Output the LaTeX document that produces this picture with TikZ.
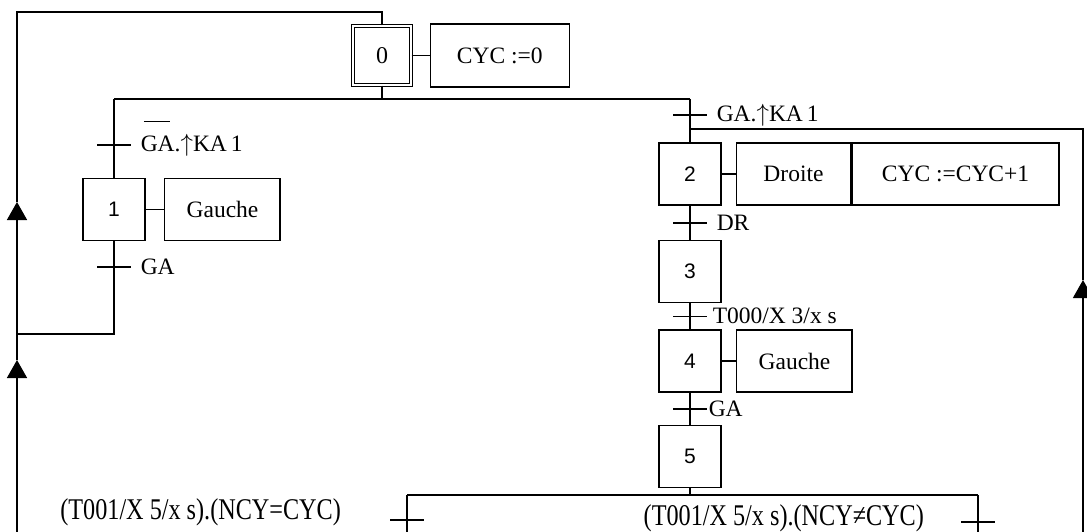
\documentclass[tikz,border=0pt]{standalone}
\usepackage{fontspec}
\setmainfont{Liberation Serif}
\setsansfont{Liberation Sans}
\usepackage{graphicx}
\usetikzlibrary{positioning,calc,arrows.meta}

\begin{document}
\begin{tikzpicture}[
    x=1pt, y=-1pt,
    line width=1.5pt,
    every node/.style={font=\fontsize{23.5}{28}\selectfont},
    etape/.style={draw, minimum width=62pt, minimum height=62pt, inner sep=0pt, font=\fontsize{21}{25}\selectfont\sffamily},
    init/.style={draw, double, double distance=2.5pt, line width=1.2pt, minimum width=58pt, minimum height=59pt, inner sep=0pt, font=\fontsize{24}{28}\selectfont},
    action/.style={draw, minimum width=#1, minimum height=62pt, inner sep=0pt},
    action/.default=116pt,
    recept/.style={anchor=west, inner sep=2pt},
    fleche/.style={-{Triangle[width=20pt,length=18pt]}}
]
    \useasboundingbox (0,0) rectangle (1087,532);

    % Initial step
    \node[init] (s0) at (382,55.5) {0};
    \node[action=139pt, minimum height=63pt, right=18pt of s0] (a0) {CYC :=0};

    % Left branch
    \node[etape] (s1) at (114,209.5) {1};
    \node[action, right=18pt of s1] (a1) {Gauche};

    % Right branch
    \node[etape] (s2) at (690,174) {2};
    \node[action=114pt, right=14pt of s2] (a2) {Droite};
    \node[action=207pt, right=0pt of a2] (a2b) {CYC :=CYC+1};
    \node[etape, below=34pt of s2] (s3) {3};
    \node[etape, below=26pt of s3] (s4) {4};
    \node[action, right=14pt of s4] (a4) {Gauche};
    \node[etape, below=32pt of s4] (s5) {5};

    % Junction points
    \coordinate (top) at (382,12);
    \coordinate (d0) at (382,99);
    \coordinate (d1) at (114,99);
    \coordinate (d2) at (690,99);
    \coordinate (j1) at (114,334);
    \coordinate (j2) at (690,129);
    \coordinate (c0) at (690,495);
    \coordinate (c1) at (407,495);
    \coordinate (c2) at (978,495);
    \coordinate (lt) at (17,12);
    \coordinate (la1) at (17,202);
    \coordinate (lj) at (17,334);
    \coordinate (la2) at (17,360);
    \coordinate (lb) at (17,532);
    \coordinate (rt) at (1083,129);
    \coordinate (ra) at (1083,280);
    \coordinate (rb) at (1083,532);
    \coordinate (c1b) at (407,532);
    \coordinate (c2b) at (978,532);

    % Transitions
    \coordinate (t1) at (114,145);
    \coordinate (t2) at (114,267);
    \coordinate (t3) at (690,115);
    \coordinate (t4) at ($(s2.south)!0.5!(s3.north)$);
    \coordinate (t5) at ($(s3.south)!0.5!(s4.north)$);
    \coordinate (t6) at ($(s4.south)!0.5!(s5.north)$);
    \coordinate (t7) at (407,520);
    \coordinate (t8) at (978,522);
    \foreach \t in {t1,t2,t3,t4,t5,t6,t7,t8}
        \draw ([xshift=-17pt]\t) -- ([xshift=17pt]\t);

    % Links
    \draw (s0.north) -- (top) -- (lt) -- (la1);
    \draw (s0.south) -- (d0);
    \draw (d1) -- (d2);
    \draw (d1) -- (s1.north);
    \draw (d2) -- (s2.north);
    \draw (s1.south) -- (j1) -- (lj);
    \draw[fleche] (lj) -- (la1);
    \draw[fleche] (lb) -- (la2);
    \draw (la2) -- (lj);
    \draw (j2) -- (rt) -- (ra);
    \draw[fleche] (rb) -- (ra);
    \draw (s2) -- (s3);
    \draw (s3) -- (s4);
    \draw (s4) -- (s5);
    \draw (s5.south) -- (c0);
    \draw (c1) -- (c2);
    \draw (c1) -- (c1b);
    \draw (c2) -- (c2b);

    % Actions
    \draw (s0) -- (a0);
    \draw (s1) -- (a1);
    \draw (s2) -- (a2);
    \draw (s4) -- (a4);
    \draw ([xshift=-2pt]a1.north east) -- ([xshift=-2pt]a1.south east);
    \draw ([xshift=-2pt]a4.north east) -- ([xshift=-2pt]a4.south east);

    % Receptivities
    \node[recept] (r1) at ([xshift=24pt]t1) {\smash{\rlap{\hspace{3pt}\rule[29pt]{26pt}{1.2pt}}}GA.$\uparrow$KA\,1};
    \node[recept] (r2) at ([xshift=24pt]t2) {GA};
    \node[recept] (r3) at ([xshift=24pt]t3) {GA.$\uparrow$KA\,1};
    \node[recept] (r4) at ([xshift=24pt]t4) {DR};
    \node[recept] (r5) at ([xshift=20pt]t5) {T000/X 3/x s};
    \node[recept] (r6) at ([xshift=16pt]t6) {GA};
    \node[anchor=east] (r7) at (345,512) {\scalebox{1.03}[1.28]{(T001/X 5/x s).(NCY=CYC)}};
    \node[anchor=east] (r8) at (928,518) {\scalebox{1.03}[1.28]{(T001/X 5/x s).(NCY≠CYC)}};
\end{tikzpicture}
\end{document}
